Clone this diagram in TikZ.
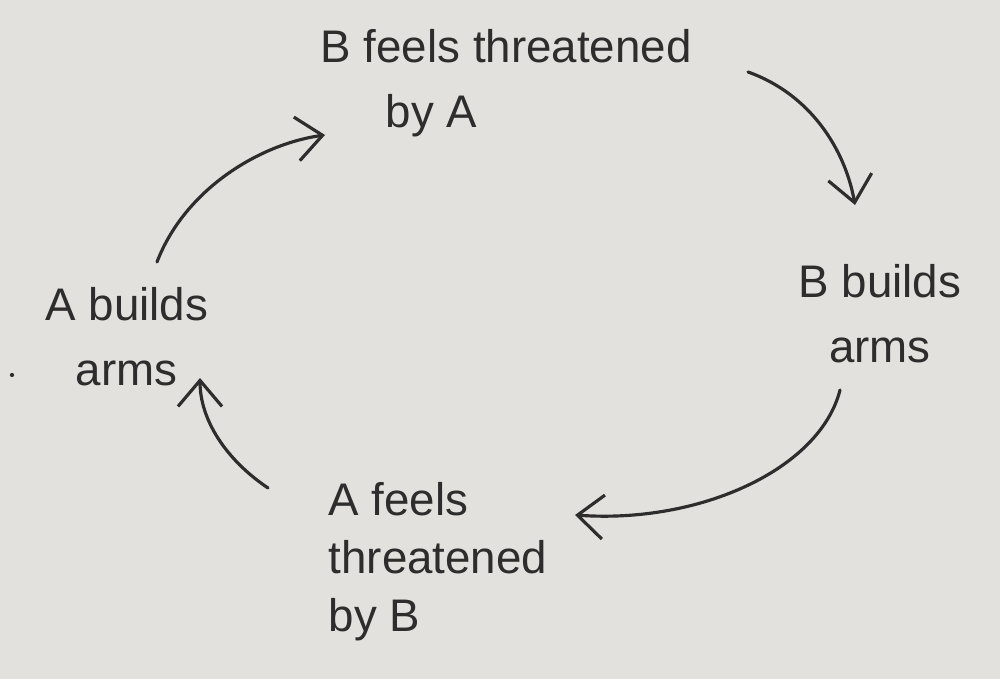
\documentclass[tikz,border=0pt]{standalone}
\usepackage{fontspec}
\setmainfont{Liberation Sans}
\usetikzlibrary{arrows.meta}
\definecolor{paper}{RGB}{226,225,221}
\definecolor{ink}{RGB}{45,45,45}
\begin{document}
\begin{tikzpicture}
\tikzset{
  hand/.style={inner sep=0pt, text=ink, align=left, font=\fontsize{13}{18.5}\selectfont},
  loop/.style={draw=ink, line width=0.9pt, line cap=round, -{Straight Barb[length=2.6mm,width=4.4mm]}}
}
\fill[paper] (0,0) rectangle (10,6.79);
\useasboundingbox (0,0) rectangle (10,6.79);

\node[hand, anchor=north west] (bfa) at (3.20,6.50) {B feels threatened\\\hspace{0.65cm}by A};
\node[hand, anchor=north, align=center] (bba) at (8.80,4.15) {B builds\\arms};
\node[hand, anchor=north west, font=\fontsize{13}{16.5}\selectfont] (afb) at (3.28,1.97) {A feels\\threatened\\by B};
\node[hand, anchor=north west] (aba) at (0.45,3.92) {A builds\\\hspace{0.3cm}arms};

\coordinate (a1) at (7.48,6.07);
\coordinate (a2) at (8.55,4.74);
\coordinate (b1) at (8.40,2.89);
\coordinate (b2) at (5.75,1.64);
\coordinate (c1) at (2.68,1.91);
\coordinate (c2) at (2.00,3.01);
\coordinate (d1) at (1.57,4.17);
\coordinate (d2) at (3.25,5.44);

\draw[loop] (a1) .. controls (8.10,5.85) and (8.45,5.30) .. (a2);
\draw[loop] (b1) .. controls (8.20,2.10) and (7.00,1.55) .. (b2);
\draw[loop] (c1) .. controls (2.25,2.20) and (2.00,2.60) .. (c2);
\draw[loop] (d1) .. controls (1.85,4.90) and (2.60,5.35) .. (d2);

\fill[ink] (0.12,3.04) circle (0.6pt);
\end{tikzpicture}
\end{document}
